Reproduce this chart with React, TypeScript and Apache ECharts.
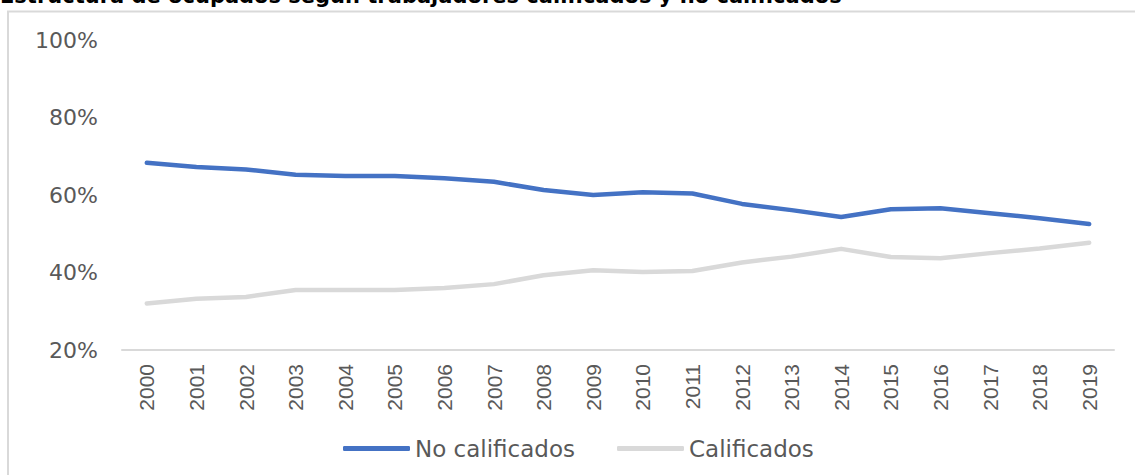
import React, { useEffect, useRef } from "react";
import * as echarts from "echarts";

const years = ["2000","2001","2002","2003","2004","2005","2006","2007","2008","2009","2010","2011","2012","2013","2014","2015","2016","2017","2018","2019"];
const noCalificados = [68.3, 67.2, 66.6, 65.2, 64.9, 64.9, 64.3, 63.4, 61.3, 60.0, 60.7, 60.4, 57.7, 56.1, 54.3, 56.3, 56.6, 55.3, 54.0, 52.5];
const calificados = [32.0, 33.2, 33.7, 35.5, 35.5, 35.5, 36.0, 37.0, 39.3, 40.6, 40.1, 40.4, 42.6, 44.1, 46.1, 44.0, 43.7, 45.0, 46.2, 47.7];
const yTicks = [20, 40, 60, 80, 100];
const titleText = "Estructura de ocupados según trabajadores calificados y no calificados";

export default function App() {
  const ref = useRef<HTMLDivElement>(null);
  useEffect(() => {
    if (!ref.current) return;
    const chart = echarts.init(ref.current, null, { renderer: "svg" });
    chart.setOption({
      animation: false,
      backgroundColor: "#ffffff",
      textStyle: { fontFamily: "DejaVu Sans" },
      graphic: [
        {
          type: "rect",
          shape: { x: 8, y: 11.5, width: 1300, height: 600 },
          style: { fill: "none", stroke: "#d9d9d9", lineWidth: 2 },
          silent: true,
        },
        {
          type: "text",
          x: 0,
          y: 6,
          style: {
            text: titleText,
            fill: "#000000",
            font: "bold 21px 'DejaVu Sans'",
            textAlign: "left",
            textVerticalAlign: "bottom",
            verticalAlign: "bottom",
          },
          silent: true,
        },
      ],
      grid: { left: 122, right: 21, top: 40, bottom: 125, containLabel: false },
      legend: {
        left: 338,
        top: 432,
        itemWidth: 67,
        itemHeight: 5,
        itemGap: 42,
        icon: "roundRect",
        textStyle: { fontFamily: "DejaVu Sans", fontSize: 23, color: "#595959" },
        data: ["No calificados", "Calificados"],
      },
      xAxis: {
        type: "category",
        data: years,
        boundaryGap: true,
        axisLine: { show: true, lineStyle: { color: "#d9d9d9", width: 2 } },
        axisTick: { show: false },
        axisLabel: {
          rotate: 90,
          margin: 14,
          interval: 0,
          color: "#595959",
          fontFamily: "Liberation Sans",
          fontSize: 21,
        },
        splitLine: { show: false },
      },
      yAxis: {
        type: "value",
        min: yTicks[0],
        max: yTicks[yTicks.length - 1],
        interval: 20,
        axisLine: { show: false },
        axisTick: { show: false },
        splitLine: { show: false },
        axisLabel: {
          formatter: "{value}%",
          margin: 24,
          color: "#595959",
          fontFamily: "DejaVu Sans",
          fontSize: 22,
        },
      },
      series: [
        {
          name: "No calificados",
          type: "line",
          data: noCalificados,
          symbol: "none",
          color: "#4472C4",
          lineStyle: { width: 4.5, color: "#4472C4", cap: "round", join: "round" },
        },
        {
          name: "Calificados",
          type: "line",
          data: calificados,
          symbol: "none",
          color: "#D9D9D9",
          lineStyle: { width: 4.5, color: "#D9D9D9", cap: "round", join: "round" },
        },
      ],
    });
    return () => chart.dispose();
  }, []);
  return (
    <div
      ref={ref}
      style={{ position: "absolute", left: 0, top: 0, width: 1135, height: 475 }}
    />
  );
}
